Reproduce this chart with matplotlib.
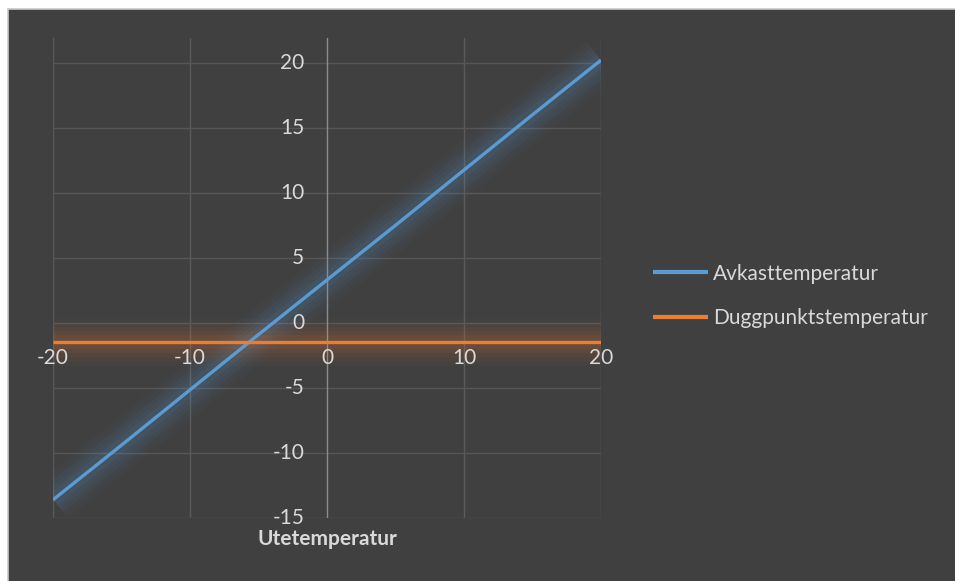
import matplotlib
matplotlib.use("Agg")
import matplotlib.pyplot as plt
from matplotlib.patches import Rectangle

plt.rcParams['font.family'] = ['Lato', 'DejaVu Sans']

# Outdoor temperature (x) and the two series
ute = [-20, -15, -10, -5, 0, 5, 10, 15, 20]
avkast = [-13.6, -9.4, -5.15, -0.9, 3.3, 7.5, 11.75, 16.0, 20.2]
dugg = [-1.45, -1.45, -1.45, -1.45, -1.45, -1.45, -1.45, -1.45, -1.45]

x_ticks = [-20, -10, 0, 10, 20]
y_ticks = [-15, -10, -5, 0, 5, 10, 15, 20]

series_names = ["Avkasttemperatur", "Duggpunktstemperatur"]
colors = ["#5B9BD5", "#ED7D31"]

BG = "#404040"
TXT = "#D9D9D9"
FS = 15

W, H = 955, 581
fig = plt.figure(figsize=(W / 100, H / 100), dpi=100, facecolor="white")
# dark chart area with a thin light frame
fig.patches.append(Rectangle((8 / W, -0.05), 1.1, 1.05 - 8.5 / H, transform=fig.transFigure,
                             facecolor=BG, edgecolor="#C8C8C8", linewidth=1.2, zorder=-5))

left, right, top, bottom = 53, 601, 38, 518
ax = fig.add_axes([left / W, 1 - bottom / H, (right - left) / W, (bottom - top) / H])
ax.set_zorder(2)
ax.set_facecolor("none")
ax.set_xlim(-20, 20)
ax.set_ylim(-15, 21.9)

# gridlines
for xv in x_ticks:
    if xv != 0:
        ax.axvline(xv, color="#5A5A5A", lw=1.0, zorder=1)
for yv in y_ticks:
    ax.axhline(yv, color="#565656", lw=1.0, zorder=1)

for s in ax.spines.values():
    s.set_visible(False)
ax.set_xticks([])
ax.set_yticks([])

# vertical axis line at x = 0
ax.axvline(0, color="#8C8C8C", lw=1.0, zorder=2)

# soft glow under each line
for ys, c in zip([avkast, dugg], colors):
    for lw, a in [(34, 0.03), (28, 0.04), (22, 0.05), (16, 0.06), (10, 0.08)]:
        ax.plot(ute, ys, color=c, lw=lw, alpha=a, solid_capstyle="butt", zorder=3)

lines = []
for ys, c, name in zip([avkast, dugg], colors, series_names):
    ln, = ax.plot(ute, ys, color=c, lw=2.4, solid_capstyle="butt", zorder=4, label=name)
    lines.append(ln)

# tick labels
for yv in y_ticks:
    ax.text(-1.65, yv, f"{yv}", ha="right", va="center", color=TXT, fontsize=FS, zorder=5)
xaxis_y = dugg[0]
for xv in x_ticks:
    ax.text(xv, xaxis_y - 0.45, f"{xv}", ha="center", va="top", color=TXT, fontsize=FS, zorder=5)

ax.text(0, -16.6, "Utetemperatur", ha="center", va="center", color=TXT, fontsize=FS,
        fontweight="bold", zorder=5)

leg = fig.legend(handles=lines, labels=series_names, loc="center left",
                 bbox_to_anchor=(653 / W, 1 - 296 / H), frameon=False,
                 fontsize=FS, labelcolor=TXT, handlelength=2.65, handletextpad=0.25,
                 labelspacing=1.2, borderpad=0, borderaxespad=0)
for h in leg.get_lines():
    h.set_linewidth(3)

fig.savefig("out.png", dpi=100, facecolor="white")
